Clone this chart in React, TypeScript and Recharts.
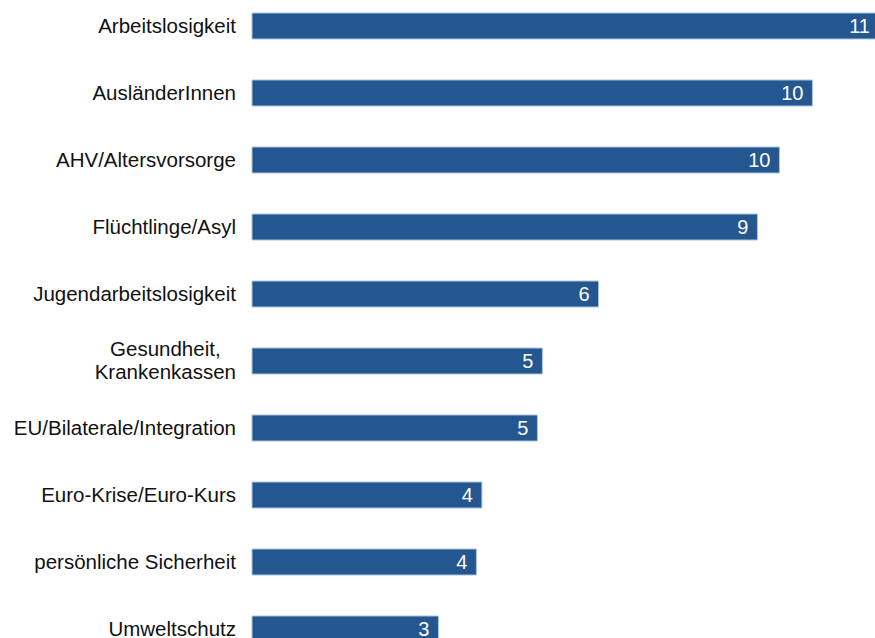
import React from 'react';
import { BarChart, Bar, XAxis, YAxis, LabelList } from 'recharts';

const categories = [
  'Arbeitslosigkeit',
  'AusländerInnen',
  'AHV/Altersvorsorge',
  'Flüchtlinge/Asyl',
  'Jugendarbeitslosigkeit',
  'Gesundheit,\nKrankenkassen',
  'EU/Bilaterale/Integration',
  'Euro-Krise/Euro-Kurs',
  'persönliche Sicherheit',
  'Umweltschutz',
];
const values = [11.4, 10.19, 9.59, 9.19, 6.3, 5.28, 5.19, 4.18, 4.08, 3.39];
const valueLabels = ['11', '10', '10', '9', '6', '5', '5', '4', '4', '3'];

const data = categories.map((c, i) => ({ name: c, value: values[i], label: valueLabels[i] }));

const FONT = '"Liberation Sans", Arial, sans-serif';
const FS = 20.5;

let ctx: CanvasRenderingContext2D | null = null;
function measure(t: string) {
  if (!ctx) {
    const c = document.createElement('canvas');
    ctx = c.getContext('2d');
  }
  if (!ctx) return t.length * FS * 0.5;
  ctx.font = `${FS}px ${FONT}`;
  return ctx.measureText(t).width;
}

const Tick = (props: any) => {
  const { x, y, payload } = props;
  const lines = String(payload.value).split('\n');
  if (lines.length === 1) {
    return (
      <text x={x} y={y} dy="0.36em" textAnchor="end" fontFamily={FONT} fontSize={FS} fill="#111">
        {lines[0]}
      </text>
    );
  }
  const maxW = Math.max(...lines.map(measure));
  const cx = x - maxW / 2;
  const lh = 23;
  const start = -((lines.length - 1) * lh) / 2;
  return (
    <text x={cx} y={y} textAnchor="middle" fontFamily={FONT} fontSize={FS} fill="#111">
      {lines.map((l, i) => (
        <tspan key={i} x={cx} y={y + start + i * lh} dy="0.36em">
          {l}
        </tspan>
      ))}
    </text>
  );
};

export default function App() {
  return (
    <div style={{ position: 'fixed', left: 0, top: 0, width: 875, height: 638, overflow: 'hidden', background: '#fff' }}>
      <div style={{ position: 'absolute', left: 0, top: -8 }}>
        <BarChart
          width={912}
          height={670}
          data={data}
          layout="vertical"
          margin={{ top: 0, right: 0, bottom: 0, left: 0 }}
        >
          <XAxis type="number" domain={[0, 12]} hide />
          <YAxis
            type="category"
            dataKey="name"
            width={252}
            axisLine={false}
            tickLine={false}
            tickSize={0}
            tickMargin={16}
            tick={<Tick />}
            interval={0}
          />
          <Bar dataKey="value" fill="#24568F" stroke="#A9C3E3" strokeWidth={1} barSize={26} isAnimationActive={false}>
            <LabelList
              dataKey="label"
              position="insideRight"
              offset={9}
              fill="#ffffff"
              fontFamily={FONT}
              fontSize={20}
            />
          </Bar>
        </BarChart>
      </div>
    </div>
  );
}
